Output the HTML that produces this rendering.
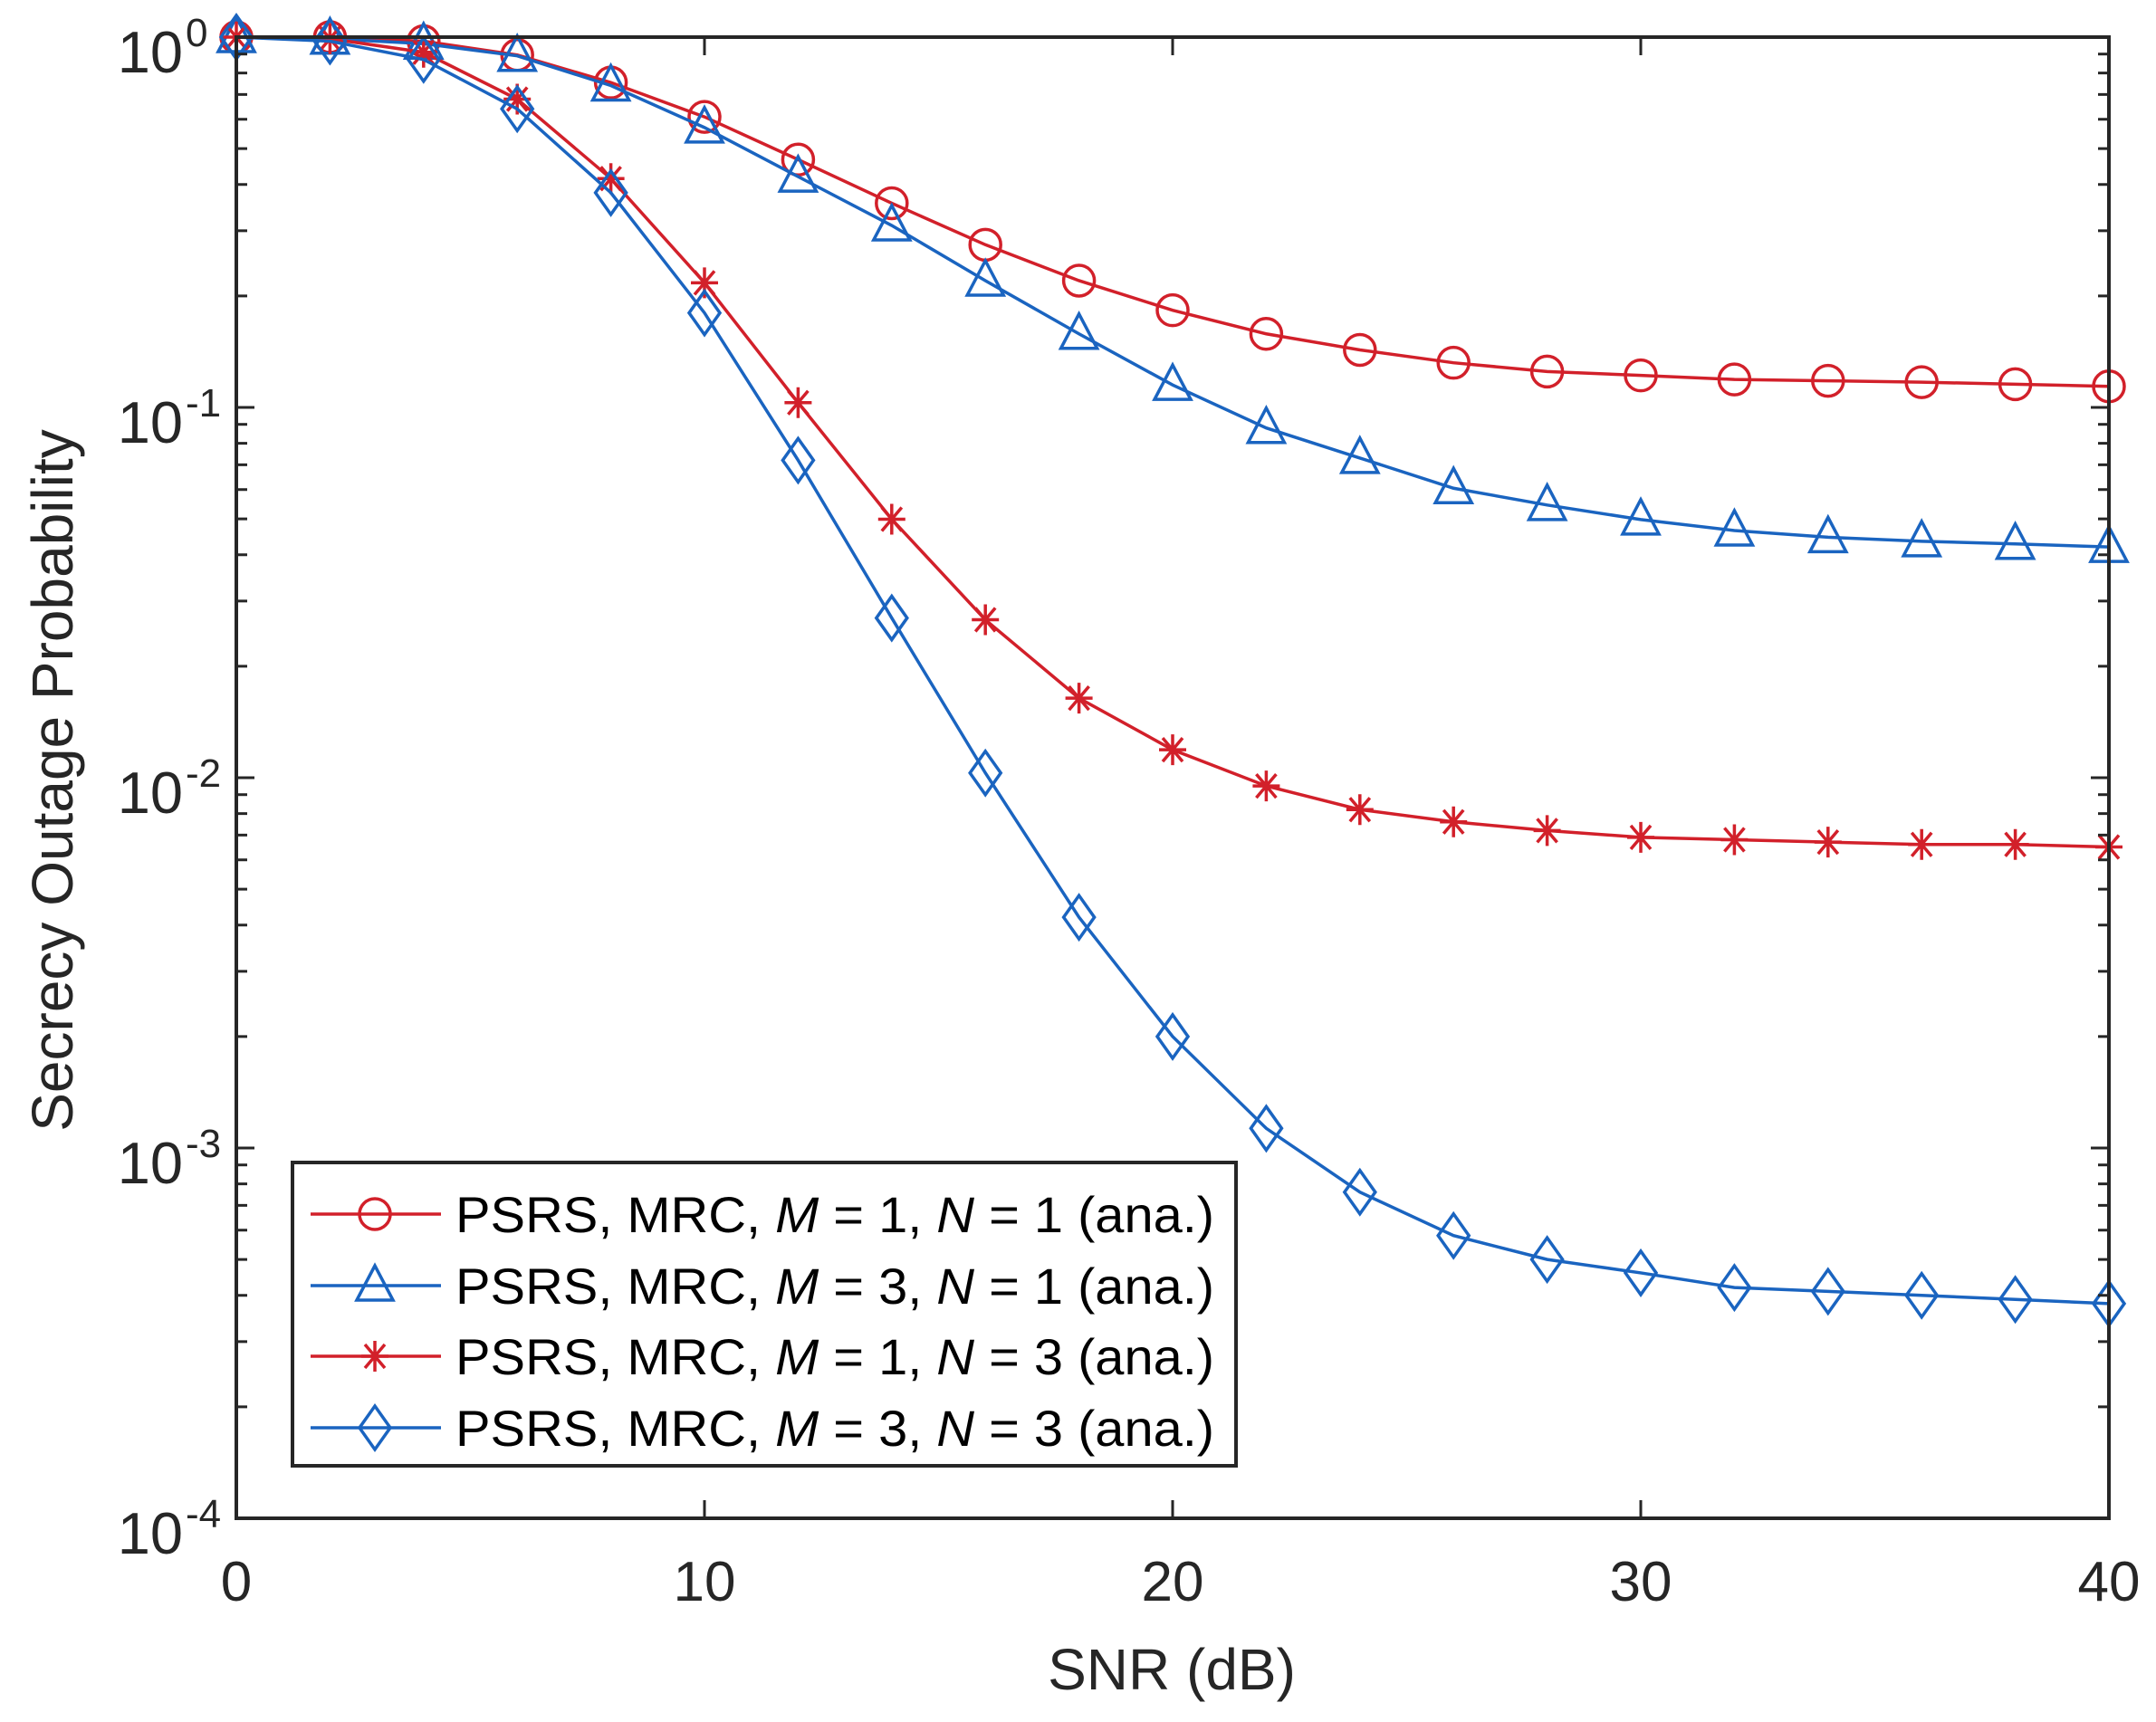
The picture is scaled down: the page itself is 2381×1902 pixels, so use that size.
<!DOCTYPE html>
<html><head><meta charset="utf-8"><style>
html,body{margin:0;padding:0;background:#fff;}
svg{display:block;font-family:"Liberation Sans",Arial,sans-serif;}
</style></head><body>
<svg id="chart" width="2381" height="1902" viewBox="0 0 2381 1902" xmlns="http://www.w3.org/2000/svg">
<rect width="2381" height="1902" fill="#fff"/>
<g id="series"></g>
<g id="axes"></g>
<g id="legend"></g>
</svg>
<script>
const snr = [0,2,4,6,8,10,12,14,16,18,20,22,24,26,28,30,32,34,36,38,40];
const sopM1N1 = [1,1,0.975,0.895,0.754,0.609,0.467,0.356,0.275,0.220,0.183,0.158,0.143,0.132,0.125,0.122,0.119,0.118,0.117,0.1155,0.114];
const sopM3N1 = [1,0.99,0.96,0.89,0.74,0.57,0.42,0.31,0.22,0.158,0.115,0.088,0.073,0.0605,0.0545,0.0498,0.0465,0.0446,0.0435,0.0428,0.042];
const sopM1N3 = [1,0.99,0.91,0.68,0.415,0.217,0.103,0.0499,0.0267,0.0164,0.0119,0.0095,0.0082,0.0076,0.0072,0.0069,0.0068,0.0067,0.0066,0.0066,0.0065];
const sopM3N3 = [1,0.975,0.87,0.64,0.38,0.18,0.072,0.027,0.0103,0.0042,0.0020,0.00113,0.00076,0.00058,0.00050,0.00046,0.00042,0.00041,0.00040,0.00039,0.00038];
const xTicks = [0,10,20,30,40];
const yTickExps = [0,-1,-2,-3,-4];
const legendLabels = [["1","1"],["3","1"],["1","3"],["3","3"]];

const L=261,R=2329,T=41,B=1677;
const NS="http://www.w3.org/2000/svg";
const RED="#d2202a", BLUE="#1a64c0", AX="#262626";
function xs(v){return L+(v-0)/(40-0)*(R-L);}
function ys(v){return T+(0-Math.log10(v))/4*(B-T);}
function mk(tag,attrs,parent){const e=document.createElementNS(NS,tag);for(const k in attrs)e.setAttribute(k,attrs[k]);parent.appendChild(e);return e;}

const series=[
 {data:sopM1N1,color:RED,marker:"circle",name:"series-m1-n1"},
 {data:sopM3N1,color:BLUE,marker:"triangle",name:"series-m3-n1"},
 {data:sopM1N3,color:RED,marker:"star",name:"series-m1-n3"},
 {data:sopM3N3,color:BLUE,marker:"diamond",name:"series-m3-n3"}
];
function drawMarker(g,type,cx,cy,color){
  let e;
  const sw=3.5;
  if(type==="circle"){e=mk("circle",{cx:cx,cy:cy,r:17,fill:"none",stroke:color,"stroke-width":sw},g);}
  else if(type==="triangle"){e=mk("polygon",{points:`${cx},${cy-22} ${cx-20},${cy+16} ${cx+20},${cy+16}`,fill:"none",stroke:color,"stroke-width":sw},g);}
  else if(type==="diamond"){e=mk("polygon",{points:`${cx},${cy-24} ${cx+17},${cy} ${cx},${cy+24} ${cx-17},${cy}`,fill:"none",stroke:color,"stroke-width":sw},g);}
  else {
    e=mk("path",{d:`M${cx},${cy-17}V${cy+17}M${cx-15},${cy}H${cx+15}M${cx-11},${cy-13}L${cx+11},${cy+13}M${cx-11},${cy+13}L${cx+11},${cy-13}`,stroke:color,"stroke-width":sw,fill:"none"},g);
  }
  return e;
}
const sg=document.getElementById("series");
series.forEach(s=>{
  const g=mk("g",{},sg);
  
  
  const pts=snr.map((x,i)=>xs(x)+","+ys(s.data[i])).join(" ");
  const pl=mk("polyline",{points:pts,fill:"none",stroke:s.color,"stroke-width":3.5},g);
  
  
  snr.forEach((x,i)=>{
    const m=drawMarker(g,s.marker,xs(x),ys(s.data[i]),s.color);
    
    
  });
});

const ag=document.getElementById("axes");
const box=mk("rect",{x:L,y:T,width:R-L,height:B-T,fill:"none",stroke:AX,"stroke-width":4},ag);


xTicks.forEach(v=>{
  const x=xs(v);
  mk("line",{x1:x,y1:B,x2:x,y2:B-20,stroke:AX,"stroke-width":3},ag);
  mk("line",{x1:x,y1:T,x2:x,y2:T+20,stroke:AX,"stroke-width":3},ag);
  const t=mk("text",{x:x,y:1768,"text-anchor":"middle","font-size":62,fill:AX},ag);
  t.textContent=v;
  
  
});
yTickExps.forEach(ex=>{
  const y=ys(Math.pow(10,ex));
  mk("line",{x1:L,y1:y,x2:L+20,y2:y,stroke:AX,"stroke-width":3},ag);
  mk("line",{x1:R,y1:y,x2:R-20,y2:y,stroke:AX,"stroke-width":3},ag);
  if(ex>-4){for(let k=2;k<=9;k++){const yy=ys(k*Math.pow(10,ex-1));
    mk("line",{x1:L,y1:yy,x2:L+12,y2:yy,stroke:AX,"stroke-width":3},ag);
    mk("line",{x1:R,y1:yy,x2:R-12,y2:yy,stroke:AX,"stroke-width":3},ag);}}
  const t=mk("text",{x:202,y:y+39,"text-anchor":"end","font-size":65,fill:AX},ag);
  t.textContent="10";
  
  
  const s=mk("text",{x:205,y:y+10,"text-anchor":"start","font-size":44,fill:AX},ag);
  s.textContent=String(ex);
  
  
});
const xl=mk("text",{x:1294,y:1866,"text-anchor":"middle","font-size":64,fill:AX},ag);
xl.textContent="SNR (dB)";


const yl=mk("text",{x:0,y:0,"text-anchor":"middle","font-size":64,fill:AX,transform:"translate(80,862) rotate(-90)"},ag);
yl.textContent="Secrecy Outage Probability";



const lg=document.getElementById("legend");


mk("rect",{x:323,y:1284,width:1042,height:335,fill:"#fff",stroke:AX,"stroke-width":4},lg);
const rowY=[1341,1420,1498,1577];
series.forEach((s,i)=>{
  const g=mk("g",{},lg);
  
  
  const y=rowY[i];
  mk("line",{x1:343,y1:y,x2:487,y2:y,stroke:s.color,"stroke-width":3.5},g);
  drawMarker(g,s.marker,414,y,s.color);
  const t=mk("text",{x:503,y:y+20,"font-size":56,fill:"#000",textLength:838,lengthAdjust:"spacingAndGlyphs"},g);
  t.innerHTML=`PSRS, MRC, <tspan font-style="italic">M</tspan> = ${legendLabels[i][0]}, <tspan font-style="italic">N</tspan> = ${legendLabels[i][1]} (ana.)`;
});
</script>
</body></html>
